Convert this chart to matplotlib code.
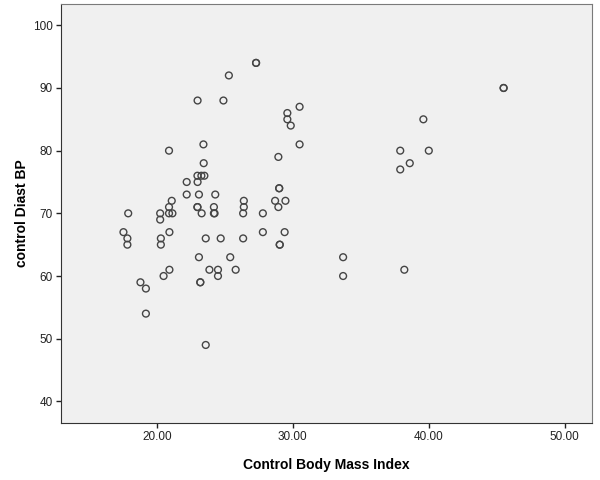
import matplotlib
matplotlib.use("Agg")
import matplotlib.pyplot as plt

plt.rcParams['font.family'] = ['Liberation Sans', 'DejaVu Sans']

# control BMI vs diastolic blood pressure
bmi = [17.55, 17.84, 17.84, 17.9, 18.8, 19.2, 19.2, 20.25, 20.25, 20.3,
       20.3, 20.5, 20.9, 20.9, 20.9, 21.15, 21.1, 20.93, 20.93, 22.2,
       22.2, 23.0, 22.99, 23.28, 23.5, 23.0, 23.1, 22.99, 22.99, 23.3,
       23.45, 23.43, 23.1, 23.2, 23.2, 23.6, 23.6, 23.87, 24.3, 24.2,
       24.2, 24.25, 24.5, 24.5, 24.7, 24.9, 25.3, 25.4, 25.8, 26.4,
       26.4, 26.35, 26.35, 27.3, 27.3, 27.8, 27.8, 28.94, 29.0, 29.0,
       28.7, 29.46, 28.94, 29.4, 29.04, 29.04, 29.6, 29.6, 29.85, 30.5,
       30.5, 33.7, 33.7, 37.9, 37.9, 38.6, 39.6, 40.0, 38.2, 45.5, 45.5]
diast_bp = [67, 66, 65, 70, 59, 58, 54, 70, 69, 66,
            65, 60, 80, 71, 70, 70, 72, 67, 61, 75,
            73, 88, 76, 76, 76, 75, 73, 71, 71, 70,
            78, 81, 63, 59, 59, 66, 49, 61, 73, 71,
            70, 70, 61, 60, 66, 88, 92, 63, 61, 72,
            71, 70, 66, 94, 94, 70, 67, 79, 74, 74,
            72, 72, 71, 67, 65, 65, 86, 85, 84, 87,
            81, 63, 60, 80, 77, 78, 85, 80, 61, 90, 90]

x_ticks = [20, 30, 40, 50]
y_ticks = [40, 50, 60, 70, 80, 90, 100]

fig = plt.figure(figsize=(6, 4.8), dpi=100)
ax = fig.add_axes([0.1017, 0.1194, 0.885, 0.8723])
ax.set_facecolor('#f0f0f0')

ax.scatter(bmi, diast_bp, s=24, facecolors='none', edgecolors='#454545', linewidths=1.0)

ax.set_xlim(12.96, 52.0)
ax.set_ylim(36.6, 103.4)
ax.set_xticks(x_ticks)
ax.set_xticklabels([f"{v:.2f}" for v in x_ticks])
ax.set_yticks(y_ticks)
ax.tick_params(direction='out', length=3.5, width=1, color='#222222', labelsize=8.5,
               labelcolor='#222222', pad=2.5)

for s in ['top', 'right']:
    ax.spines[s].set_color('#7a7a7a')
for s in ['left', 'bottom']:
    ax.spines[s].set_color('#333333')

ax.set_xlabel("Control Body Mass Index", fontsize=10, fontweight='bold', labelpad=11)
ax.set_ylabel("control Diast BP", fontsize=10, fontweight='bold', labelpad=3)

fig.savefig("out.png", dpi=100)
